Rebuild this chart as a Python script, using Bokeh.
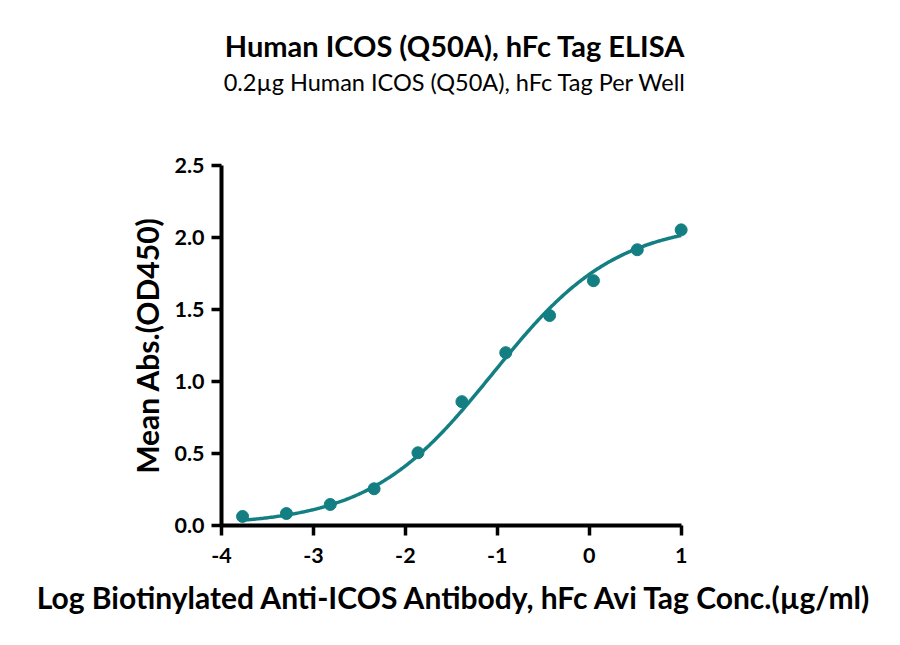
import numpy as np
from bokeh.plotting import figure
from bokeh.models import FixedTicker, ColumnDataSource, Title
from bokeh.embed import file_html
from bokeh.resources import INLINE

# Data
log_conc = [-3.771, -3.294, -2.817, -2.340, -1.863, -1.385, -0.908, -0.431, 0.046, 0.523, 1.000]
mean_abs = [0.063, 0.083, 0.146, 0.255, 0.505, 0.860, 1.200, 1.458, 1.700, 1.915, 2.053]

# 4PL fit parameters (estimated from the drawn curve)
fit_bottom = 0.0
fit_top = 2.11
fit_log_ec50 = -1.05
fit_hill = 0.645

x_ticks = [-4, -3, -2, -1, 0, 1]
y_ticks = [0.0, 0.5, 1.0, 1.5, 2.0, 2.5]

title_text = "Human ICOS (Q50A), hFc Tag ELISA"
subtitle_text = "0.2µg Human ICOS (Q50A), hFc Tag Per Well"
x_label = "Log Biotinylated Anti-ICOS Antibody, hFc Avi Tag Conc.(µg/ml)"
y_label = "Mean Abs.(OD450)"

TEAL = "#137f82"
FONT = "Lato"

PX_PER_X = 92
XR_END = 1.08
FW = int(round(PX_PER_X * (XR_END + 4)))
FH = 360
LEFT = 221
TOP = 165
W, H = 896, 640

p = figure(
    frame_width=FW,
    frame_height=FH,
    x_range=(-4, XR_END),
    y_range=(0, 2.5),
    output_backend="svg",
    toolbar_location=None,
    min_border_left=LEFT,
    min_border_right=W - LEFT - FW,
    min_border_top=0,
    min_border_bottom=H - TOP - FH,
)
p.title.visible = False
p.outline_line_color = None
p.grid.visible = False
p.background_fill_color = "white"
p.border_fill_color = "white"

xa = p.below[0]
ya = p.left[0]


def spacer(gap):
    # blank band that only reserves vertical space in the title stack
    return Title(text=".", text_font_size="8px", text_color="white", standoff=gap)


# stacked above the frame (first added = closest to the frame)
p.add_layout(spacer(61.4), "above")
p.add_layout(Title(text=subtitle_text, align="center", text_font=FONT,
                   text_font_style="normal", text_font_size="23.5px",
                   text_color="black", standoff=4), "above")
p.add_layout(Title(text=title_text, align="center", text_font=FONT,
                   text_font_style="bold", text_font_size="29px",
                   text_color="black", standoff=1), "above")
p.add_layout(spacer(18.4), "above")

# curve from fit parameters
xc = np.linspace(min(log_conc), max(log_conc), 300)
yc = fit_bottom + (fit_top - fit_bottom) / (1 + 10 ** ((fit_log_ec50 - xc) * fit_hill))
p.line(xc, yc, line_color=TEAL, line_width=3.5)

src = ColumnDataSource(dict(x=log_conc, y=mean_abs))
p.scatter("x", "y", source=src, size=12, fill_color=TEAL, line_color=TEAL)

for ax in (xa, ya):
    ax.axis_line_width = 4
    ax.axis_line_color = "black"
    ax.major_tick_line_width = 3.5
    ax.major_tick_line_color = "black"
    ax.major_tick_out = 10
    ax.major_tick_in = 0
    ax.minor_tick_line_color = None
    ax.major_label_text_font = FONT
    ax.major_label_text_font_style = "bold"
    ax.major_label_text_font_size = "21.5px"
    ax.major_label_text_color = "black"
    ax.axis_label_text_font = FONT
    ax.axis_label_text_font_style = "bold"
    ax.axis_label_text_font_size = "30px"
    ax.axis_label_text_color = "black"

xa.ticker = FixedTicker(ticks=x_ticks)
ya.ticker = FixedTicker(ticks=y_ticks)
xa.bounds = (-4, 1)
ya.bounds = (0, 2.5)
xa.major_label_overrides = {t: str(t) for t in x_ticks}
ya.major_label_overrides = {t: f"{t:.1f}" for t in y_ticks}
xa.axis_label = x_label
ya.axis_label = y_label
xa.major_label_standoff = 12
ya.major_label_standoff = 7
xa.axis_label_standoff = 13
ya.axis_label_standoff = 6

open("out.html", "w").write(file_html(p, INLINE))
